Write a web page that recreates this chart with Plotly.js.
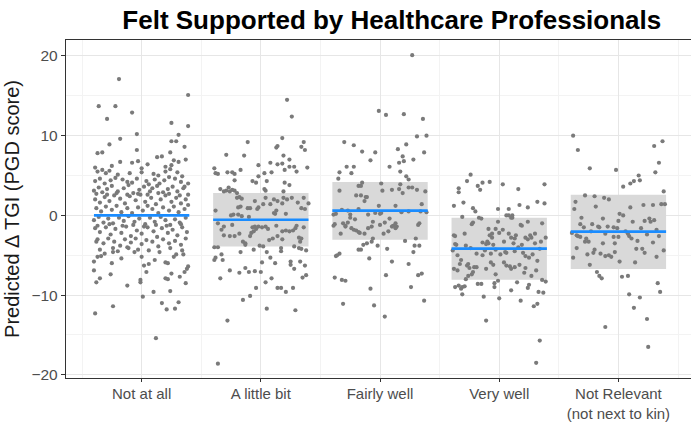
<!DOCTYPE html>
<html>
<head>
<meta charset="utf-8">
<script src="https://cdn.plot.ly/plotly-3.0.1.min.js"></script>
<style>html,body{margin:0;padding:0;background:#fff;}#chart{width:691px;height:423px;}</style>
</head>
<body>
<div id="chart"></div>
<script>
// Categories and tick labels
const categories = ["Not at all", "A little bit", "Fairly well", "Very well", "Not Relevant<br>(not next to kin)"];
// Mean predicted change and confidence band per category
const means = [0.0, -0.54, 0.59, -4.17, -2.04];
const bandLow = [null, -3.9, -3.05, -8.06, -6.72];
const bandHigh = [null, 2.8, 4.2, -0.29, 2.59];

// Individual points: [horizontal jitter, value]
const ptsNotAtAll = [
[-0.19,17.1],[0.39,15.1],[-0.36,13.7],[-0.22,13.7],[-0.08,12.9],[-0.29,12.1],[0.25,11.6],[0.39,11.2],[-0.04,10.2],[0.31,10.1],
[0.25,9.3],[0.29,9.3],[-0.18,9.6],[-0.27,8.9],[0.36,8.6],[-0.04,8.2],[-0.37,7.8],[-0.33,7.9],[0.24,7.9],[0.13,7.3],[0.17,7.4],
[0.37,7.0],[-0.18,6.7],[-0.08,6.6],[-0.03,6.8],[0.27,6.9],[0.31,6.7],[0.25,6.3],
[-0.39,-12.3],[-0.24,-11.4],[0.12,-15.4],[0.17,-11.0],[0.21,-11.8],[0.28,-11.7],[0.31,-10.9],[0.01,-10.2],[0.10,-9.6],[0.24,-9.5],
[-0.12,-8.8],[-0.38,-8.4],[-0.35,-7.9],[-0.26,-7.4],[-0.01,-8.4],[-0.01,-8.1],[0.04,-7.1],[0.06,-6.1],[0.02,-6.3],[0.11,-5.6],
[0.2,-5.9],[0.22,-6.0],[0.2,-7.9],[0.22,-8.0],[0.25,-7.3],[0.32,-7.7],[0.36,-7.1],[0.38,-6.7],[0.39,-6.4],[0.37,-8.5],[0.35,-4.9],
[0.27,-5.2],[0.29,-4.9],[-0.4,-6.9],[-0.4,-5.8],[-0.37,-5.2],[-0.34,-5.1],[-0.31,-4.8],[-0.24,-4.6],[-0.24,-4.1],[-0.38,-3.3],
[-0.25,-6.0],[-0.17,-5.4],[-0.11,-4.1],[-0.06,-4.6],[-0.03,-4.3],[0.0,-5.2],
[-0.39,6.0],[-0.25,6.2],[0.0,5.9],[0.2,6.1],[0.05,6.4],
[-0.37,5.5],[-0.33,5.7],[-0.3,5.3],[-0.27,5.6],[-0.2,5.1],[-0.1,5.3],[0.0,5.4],[0.1,5.2],[0.14,5.0],[0.2,5.5],[0.24,5.8],[0.3,5.4],[0.34,4.9],[0.39,4.0],
[-0.39,4.3],[-0.35,4.6],[-0.31,4.0],[-0.26,4.4],[-0.22,4.7],[-0.16,4.5],[-0.12,4.2],[-0.08,4.1],[-0.04,4.6],[0.04,4.3],[0.06,3.9],[0.11,4.5],[0.15,4.0],[0.19,4.4],[0.23,4.8],[0.28,4.6],[0.33,4.2],[0.36,3.6],
[-0.4,3.1],[-0.36,3.5],[-0.33,2.9],[-0.29,3.3],[-0.25,3.7],[-0.2,3.0],[-0.15,3.4],[-0.11,3.8],[-0.07,2.8],[-0.02,3.2],[0.02,3.6],[0.07,3.0],[0.09,3.4],[0.13,3.7],[0.18,2.9],[0.22,3.3],[0.26,3.6],[0.3,3.0],[0.35,3.4],[0.39,2.6],
[-0.38,2.7],[-0.29,2.6],[-0.21,2.8],[-0.12,2.6],[-0.03,2.7],[0.05,2.6],[0.14,2.8],[0.23,2.7],[0.32,2.5],
[-0.39,2.0],[-0.35,1.6],[-0.31,2.3],[-0.27,1.8],[-0.23,2.5],[-0.18,2.1],[-0.14,1.5],[-0.1,2.4],[-0.05,1.9],[-0.01,2.6],[0.03,1.7],[0.08,2.2],[0.12,1.4],[0.16,2.0],[0.2,2.5],[0.25,1.7],[0.29,2.2],[0.33,1.5],[0.37,2.0],
[-0.38,0.9],[-0.34,0.5],[-0.3,1.1],[-0.25,0.7],[-0.21,1.2],[-0.17,0.4],[-0.12,0.9],[-0.08,0.3],[-0.03,1.0],[0.01,0.6],[0.05,1.2],[0.09,0.8],[0.14,0.3],[0.18,1.0],[0.23,0.6],[0.27,1.1],[0.31,0.4],[0.36,0.8],[0.39,1.3],
[-0.4,-0.6],[-0.36,-0.2],[-0.32,-0.9],[-0.28,-0.4],[-0.24,-1.0],[-0.19,-0.3],[-0.15,-0.7],[-0.11,-0.1],[-0.06,-0.8],[-0.02,-0.4],[0.03,-1.1],[0.07,-0.3],[0.11,-0.8],[0.16,-0.2],[0.2,-0.6],[0.24,-1.2],[0.28,-0.5],[0.32,-0.9],[0.37,-0.3],
[-0.37,-1.3],[-0.27,-1.1],[-0.16,-1.3],[-0.07,-1.2],[0.02,-1.4],[0.12,-1.2],[0.21,-1.3],[0.33,-1.1],
[-0.39,-1.6],[-0.35,-2.1],[-0.3,-1.5],[-0.26,-2.4],[-0.22,-1.7],[-0.17,-2.2],[-0.13,-1.4],[-0.09,-2.6],[-0.04,-1.9],[0.0,-2.3],[0.05,-1.5],[0.1,-2.0],[0.13,-2.7],[0.17,-1.6],[0.22,-2.2],[0.26,-1.8],[0.3,-2.5],[0.34,-1.5],[0.38,-2.1],
[-0.37,-3.0],[-0.32,-3.5],[-0.28,-2.9],[-0.23,-3.3],[-0.18,-3.8],[-0.14,-3.0],[-0.09,-3.4],[-0.05,-2.9],[0.0,-3.6],[0.04,-3.1],[0.09,-3.3],[0.14,-3.9],[0.18,-3.0],[0.23,-3.5],[0.28,-3.2],[0.33,-3.7],[0.37,-2.9],
[-0.35,-4.3],[-0.2,-4.5],[-0.12,-4.0],[0.06,-4.4],[0.15,-4.6],[0.24,-4.1],[0.34,-4.4]
];
const ptsLittleBit = [
[0.22,14.5],[0.26,12.4],[0.18,9.7],[-0.11,9.2],[0.36,9.2],[0.14,8.7],[0.13,8.5],[0.34,8.6],[0.37,8.2],[-0.29,7.6],[-0.14,7.5],[0.19,7.5],[0.24,7.0],
[0.08,6.6],[0.14,6.4],[0.18,6.5],[-0.02,6.3],[0.39,6.0],[0.24,6.1],[0.28,6.1],[-0.39,5.9],[-0.38,5.3],[-0.36,5.2],[-0.28,5.4],[-0.24,5.4],[-0.22,5.2],
[-0.17,5.7],[0.2,5.7],[0.3,5.5],[0.09,5.4],[0.03,5.3],[-0.02,4.9],[-0.22,4.4],[-0.07,4.3],[-0.04,4.1],[0.05,4.3],[0.2,4.1],[0.24,3.8],
[-0.34,3.3],[-0.31,3.0],[-0.29,3.1],[-0.27,3.5],[-0.26,3.0],[-0.24,3.2],[-0.22,3.1],[-0.2,2.8],[0.03,3.3],[0.04,3.1],[0.19,3.0],
[-0.2,2.2],[-0.18,2.3],[-0.16,2.1],[-0.05,1.8],[0.04,2.2],[0.11,2.0],[0.14,1.8],[0.19,2.2],[0.22,2.0],[0.26,2.2],[0.36,2.2],
[-0.38,0.6],[-0.19,1.0],[-0.17,1.1],[-0.11,0.9],[-0.09,0.9],[-0.03,0.8],[-0.02,1.0],[0.02,1.4],[0.08,1.4],[0.13,0.6],[0.18,1.5],[0.21,0.2],[0.31,1.6],[0.34,0.9],[0.37,0.8],[0.4,1.5],
[-0.25,0.0],[-0.23,0.1],[-0.19,0.1],[-0.16,-0.1],[-0.1,-0.2],[0.11,0.3],[0.12,0.2],
[-0.36,-1.0],[-0.31,-1.4],[-0.33,-1.8],[-0.24,-1.2],
[-0.07,-1.5],[-0.05,-1.4],[-0.02,-1.4],[0.01,-1.5],[0.04,-1.4],[0.06,-1.7],[0.13,-1.3],[0.18,-2.0],[0.21,-1.9],[0.24,-2.0],[0.27,-1.9],[0.29,-1.6],[0.3,-1.3],[0.36,-1.5],
[-0.31,-2.5],[-0.26,-2.6],[-0.22,-2.6],[-0.18,-2.3],[-0.09,-2.6],[-0.08,-2.2],[-0.06,-2.0],[-0.04,-1.7],
[-0.15,-3.3],[-0.13,-3.7],[-0.13,-3.5],[0.1,-2.9],[0.07,-3.1],[0.14,-2.6],[0.18,-3.0],[0.32,-2.8],[0.34,-2.9],[0.33,-3.3],
[-0.01,-3.8],[0.02,-3.9],[0.17,-4.1],[0.17,-4.5],[0.28,-3.9],[0.32,-4.1],[0.34,-4.2],[0.38,-4.4],
[-0.39,-4.0],[-0.36,-4.0],[-0.33,-4.9],[-0.39,-5.6],[-0.38,-5.3],[-0.32,-5.6],[-0.17,-4.6],[-0.06,-4.3],
[0.05,-4.6],[0.08,-5.3],[0.12,-6.0],[0.01,-5.9],[0.25,-5.8],[0.25,-6.2],[0.28,-6.7],[0.33,-5.8],[0.37,-6.3],[0.38,-7.5],[0.35,-7.8],
[-0.26,-6.9],[-0.18,-7.2],[-0.13,-6.6],[-0.1,-7.1],[-0.05,-7.0],[0.0,-7.1],[-0.34,-7.9],
[-0.04,-9.1],[0.04,-8.4],[0.09,-7.9],[0.14,-9.1],[0.17,-9.1],[0.21,-9.6],[0.27,-9.1],[-0.09,-10.1],[-0.15,-10.6],
[0.05,-11.7],[0.29,-11.9],[-0.28,-13.2],[-0.36,-18.6]
];
const ptsFairlyWell = [
[0.27,20.1],[-0.01,13.1],[0.05,12.6],[0.2,12.7],[0.36,12.1],[0.31,9.9],[0.39,10.0],[-0.3,9.2],[-0.22,8.8],[0.22,8.9],
[-0.15,8.0],[-0.04,7.9],[0.15,8.3],[0.37,7.9],[-0.08,6.9],[0.19,7.4],[0.2,6.8],[0.16,6.6],[0.28,7.0],[0.08,6.1],
[-0.28,6.1],[-0.22,6.1],[-0.24,5.3],[-0.34,5.4],[-0.35,4.6],[0.17,5.5],[0.22,4.9],[0.24,4.5],[-0.15,4.1],[0.01,4.0],
[-0.18,3.7],[-0.16,3.7],[0.17,3.9],[-0.34,3.1],[0.02,3.1],[0.1,3.2],[0.16,3.3],[0.19,2.8],[0.24,3.5],[0.27,3.5],[0.31,3.2],[0.38,3.0],
[-0.2,2.5],[-0.16,2.5],[-0.12,2.3],[-0.11,2.3],[-0.13,1.8],[-0.01,1.2],[0.13,1.2],[0.35,1.4],
[-0.39,0.1],[-0.37,0.2],[-0.32,0.7],[-0.27,0.6],[-0.18,0.8],[-0.1,0.1],[-0.04,0.3],[0.0,0.2],[0.01,0.3],[0.18,0.4],[0.24,0.5],[0.34,0.5],[0.39,0.4],
[-0.25,0.1],[-0.25,-0.3],[-0.21,-0.5],[-0.38,-1.1],[-0.39,-1.3],[-0.31,-1.0],[-0.29,-1.4],[-0.27,-0.9],[-0.29,-1.3],
[-0.24,-1.6],[-0.22,-1.8],[-0.2,-1.9],[-0.18,-2.1],[-0.17,-2.2],[-0.13,-2.3],[-0.1,-1.6],[-0.07,-1.4],[-0.06,-0.8],[0.0,-1.2],[0.04,-0.9],
[0.08,-0.4],[0.1,-1.4],[0.11,-1.3],[0.13,-1.0],[0.14,-1.4],[0.13,-1.6],[0.33,-1.0],[0.32,-1.2],
[-0.33,-2.3],[0.03,-2.3],[0.07,-2.0],[-0.06,-2.9],[-0.07,-3.3],[-0.11,-3.5],[-0.14,-3.7],[-0.16,-4.3],[-0.18,-4.3],
[-0.02,-3.8],[0.06,-4.2],[0.21,-3.2],[0.3,-2.9],[0.29,-3.8],[0.33,-3.8],[0.28,-4.6],
[-0.34,-4.8],[-0.36,-5.0],[-0.37,-5.1],[-0.09,-5.4],[0.1,-5.8],[0.24,-6.1],[-0.38,-7.8],[-0.32,-8.1],[-0.29,-8.2],
[0.05,-7.5],[0.32,-7.5],[0.35,-7.3],[-0.08,-9.2],[0.26,-9.0],[-0.31,-11.1],[-0.05,-11.3],[0.37,-10.7],[0.04,-12.7]
];
const ptsVeryWell = [
[-0.24,5.1],[-0.27,4.3],[-0.34,3.4],[-0.34,2.9],[-0.18,3.7],[-0.16,3.2],[-0.14,4.1],[-0.08,4.2],[0.03,3.9],[0.16,3.3],[0.38,3.9],
[-0.38,1.2],[-0.3,1.6],[-0.22,0.9],[-0.2,0.5],[-0.01,0.8],[0.08,0.8],[0.17,1.3],[0.24,1.0],[0.32,1.7],[0.38,1.5],
[-0.31,-0.2],[-0.17,-0.3],[-0.15,-0.4],[-0.22,-0.9],[-0.23,-1.1],[0.06,0.0],[0.08,0.0],[0.11,0.0],[0.1,-0.3],[0.11,-0.3],
[-0.01,-0.8],[0.18,-1.2],[0.19,-1.3],[0.24,-0.8],[0.36,-1.0],
[-0.38,-2.5],[-0.37,-3.6],[-0.29,-2.3],[-0.09,-1.7],[-0.06,-2.3],[-0.06,-2.8],[-0.03,-1.7],[0.03,-1.8],[0.0,-2.2],
[-0.14,-3.4],[-0.1,-3.3],[-0.09,-3.5],[-0.11,-3.6],[0.08,-2.3],[0.1,-2.8],[0.14,-2.5],[0.13,-2.9],[0.12,-3.5],
[0.22,-2.8],[0.26,-2.5],[0.3,-2.3],[0.27,-2.8],[0.24,-3.0],[0.39,-2.8],[0.35,-3.3],
[-0.39,-4.4],[-0.36,-3.7],[-0.24,-4.1],[-0.19,-4.8],[-0.12,-4.4],[-0.07,-4.8],[-0.03,-4.3],[0.01,-4.9],[0.05,-4.6],[0.06,-4.7],
[0.13,-4.5],[0.16,-4.0],[0.2,-4.7],[0.22,-5.1],[0.25,-5.3],[0.28,-4.9],[0.32,-5.7],
[-0.35,-5.0],[-0.32,-5.6],[-0.33,-6.1],[-0.38,-6.7],[-0.35,-6.9],
[-0.27,-6.3],[-0.26,-6.1],[-0.25,-6.6],[-0.21,-6.5],[-0.19,-6.5],[-0.22,-7.1],[-0.23,-7.4],[-0.26,-7.6],[-0.28,-8.0],
[-0.07,-5.9],[-0.05,-6.2],[-0.11,-6.7],[0.04,-5.9],[0.06,-6.3],[0.09,-6.4],[0.13,-6.5],[0.17,-6.2],
[-0.03,-7.4],[-0.01,-8.2],[0.1,-6.7],[0.21,-7.2],[0.22,-6.6],[0.27,-7.6],[0.31,-6.9],
[-0.37,-9.0],[-0.34,-8.8],[-0.32,-9.2],[-0.31,-9.0],[-0.29,-8.9],[-0.31,-9.9],[-0.18,-8.6],[-0.15,-8.6],[-0.04,-8.5],[-0.04,-9.0],
[0.1,-9.4],[0.15,-8.4],[0.18,-10.7],[0.24,-9.1],[0.25,-8.7],[0.33,-9.6],[0.37,-9.7],[0.36,-8.1],[0.39,-8.3],
[-0.13,-10.2],[0.0,-10.4],[0.29,-11.4],[0.32,-11.1],[-0.11,-13.2],[0.34,-15.7],[0.31,-18.5],
[-0.37,-2.6],[-0.28,-3.8],[-0.14,-5.0],[0.04,-3.3],[0.19,-3.7],[0.3,-3.5],[0.34,-4.2],[-0.08,-2.5],[-0.05,-3.7]
];
const ptsNotRelevant = [
[-0.38,10.0],[-0.34,8.2],[0.3,8.7],[0.37,9.3],[-0.24,5.9],[-0.02,5.7],[0.34,6.6],[0.31,5.4],
[0.04,3.6],[0.1,4.0],[0.13,4.3],[0.17,5.0],[0.18,4.4],[-0.28,2.5],[-0.2,2.4],[-0.12,2.2],[-0.08,2.0],[0.38,3.0],
[-0.36,1.7],[-0.37,0.8],[-0.19,1.1],[0.1,1.0],[0.21,1.3],[0.29,1.3],[0.36,1.4],[0.39,1.4],
[-0.31,-0.3],[-0.13,-0.4],[0.01,0.2],[0.04,0.0],
[-0.32,-1.1],[-0.29,-1.5],[-0.22,-1.1],[-0.17,-1.4],[-0.09,-1.4],[-0.04,-1.5],[-0.01,-1.6],[0.12,-0.8],[0.0,-0.7],
[0.22,-0.7],[0.26,-0.4],[0.27,-0.8],[0.3,-0.6],[0.19,-1.6],[0.32,-1.8],
[-0.39,-2.2],[-0.35,-2.5],[-0.32,-2.7],[-0.34,-2.6],[-0.28,-3.3],[-0.27,-2.9],[-0.25,-3.3],
[-0.23,-2.0],[-0.16,-1.5],[-0.11,-2.3],[-0.13,-3.5],[-0.04,-2.7],[0.0,-2.7],[-0.03,-3.5],
[0.06,-2.0],[0.08,-2.3],[0.09,-2.6],[0.11,-2.9],[0.16,-3.2],[0.2,-4.2],[0.22,-4.7],[0.24,-2.4],[0.29,-3.4],[0.34,-2.6],
[-0.35,-4.1],[-0.38,-5.3],[-0.26,-4.9],[-0.21,-4.7],[-0.2,-4.3],[-0.15,-4.8],[-0.11,-5.1],[-0.08,-5.0],[-0.06,-5.2],
[-0.03,-4.6],[0.01,-5.8],[0.14,-5.9],[0.15,-4.2],[0.32,-5.2],[0.38,-4.4],[-0.24,-6.2],
[-0.18,-7.1],[-0.16,-7.6],[-0.14,-7.9],[0.03,-7.7],[0.08,-7.6],[0.33,-8.5],[0.35,-9.6],
[0.09,-9.9],[0.18,-10.3],[0.13,-11.6],[0.24,-13.0],[-0.11,-14.0],[0.25,-16.5]
];

const groups = [ptsNotAtAll, ptsLittleBit, ptsFairlyWell, ptsVeryWell, ptsNotRelevant];
const catPos = categories.map((c, i) => i + 1);

// Confidence bands as bars
const bandX = [], bandBase = [], bandH = [];
catPos.forEach((p, i) => {
  if (bandLow[i] !== null) { bandX.push(p); bandBase.push(bandLow[i]); bandH.push(bandHigh[i] - bandLow[i]); }
});
const bandTrace = {
  type: 'bar', x: bandX, y: bandH, base: bandBase, width: 0.8,
  marker: {color: '#d9d9d9', line: {width: 0}}, hoverinfo: 'skip', showlegend: false
};

// Points
const px = [], py = [];
groups.forEach((g, i) => g.forEach(([j, v]) => { px.push(catPos[i] + j); py.push(v); }));
const pointTrace = {
  type: 'scatter', mode: 'markers', x: px, y: py,
  marker: {color: '#7a7a7a', size: 4.2, line: {width: 0}}, hoverinfo: 'skip', showlegend: false
};

// Mean lines
const lx = [], ly = [];
catPos.forEach((p, i) => { lx.push(p - 0.4, p + 0.4, null); ly.push(means[i], means[i], null); });
const meanTrace = {
  type: 'scatter', mode: 'lines', x: lx, y: ly,
  line: {color: '#1a8cff', width: 2.6}, hoverinfo: 'skip', showlegend: false
};

const fontFam = 'Liberation Sans, Arial, sans-serif';
const layout = {
  width: 691, height: 423,
  margin: {l: 66, r: 0, t: 40, b: 45},
  paper_bgcolor: '#ffffff', plot_bgcolor: '#ffffff',
  showlegend: false,
  font: {family: fontFam},
  title: {
    text: 'Felt Supported by Healthcare Professionals',
    font: {family: fontFam, size: 26, color: '#000000', weight: 700},
    x: 0.567, xanchor: 'center', xref: 'container',
    y: 0.953, yanchor: 'middle', yref: 'container'
  },
  xaxis: {
    range: [0.3655, 5.609], tickmode: 'array', tickvals: catPos, ticktext: categories,
    showgrid: true, gridcolor: '#e6e6e6', gridwidth: 1,
    minor: {tickvals: [0.5, 1.5, 2.5, 3.5, 4.5, 5.5], showgrid: true, gridcolor: '#f3f3f3', gridwidth: 1, ticks: ''},
    zeroline: false, showline: true, linecolor: '#333333', linewidth: 1.2, mirror: true,
    ticks: 'outside', ticklen: 3, tickcolor: '#333333', tickwidth: 1,
    ticklabelstandoff: -1,
    tickfont: {family: fontFam, size: 15, color: '#4d4d4d'}
  },
  yaxis: {
    range: [-20.4, 22.0], tickmode: 'array', tickvals: [-20, -10, 0, 10, 20],
    showgrid: true, gridcolor: '#e6e6e6', gridwidth: 1,
    minor: {tickvals: [-15, -5, 5, 15], showgrid: true, gridcolor: '#f3f3f3', gridwidth: 1, ticks: ''},
    zeroline: false, showline: true, linecolor: '#333333', linewidth: 1.2, mirror: false,
    ticks: 'outside', ticklen: 4, tickcolor: '#333333', tickwidth: 1,
    tickfont: {family: fontFam, size: 15.5, color: '#4d4d4d'},
    title: {text: 'Predicted \u0394 TGI (PGD score)', font: {family: fontFam, size: 20, color: '#1a1a1a'}, standoff: 6}
  },
  barmode: 'overlay'
};

Plotly.newPlot('chart', [bandTrace, pointTrace, meanTrace], layout, {displayModeBar: false, staticPlot: true});
</script>
</body>
</html>
